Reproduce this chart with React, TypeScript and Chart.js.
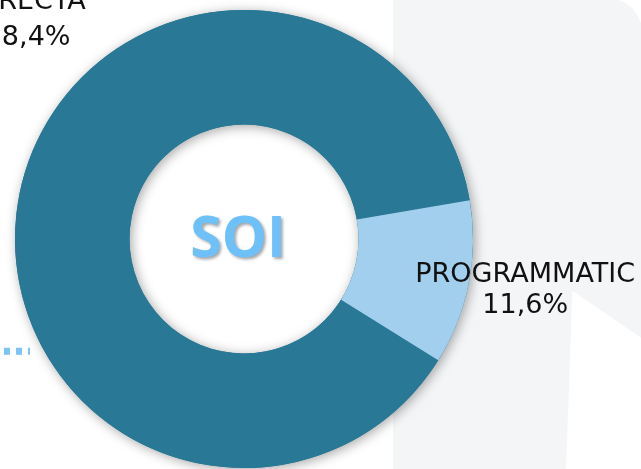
import React, { useEffect, useRef } from "react";
import { Chart, registerables } from "chart.js";

Chart.register(...registerables);

const categories = ["DIRECTA", "PROGRAMMATIC"];
const values = [88.4, 11.6];
const valueLabels = ["88,4%", "11,6%"];
const colors = ["#287896", "#a3cfee"];
const centerText = "SOI";

const backgroundPlugin = {
  id: "bg",
  beforeDraw(chart: any) {
    const { ctx, width: w, height: h } = chart;
    ctx.save();
    ctx.fillStyle = "#ffffff";
    ctx.fillRect(0, 0, w, h);
    // gray panel on the right
    ctx.fillStyle = "#f4f5f7";
    ctx.beginPath();
    ctx.moveTo(w * 0.613, 0);
    ctx.lineTo(w * 0.965, 0);
    ctx.quadraticCurveTo(w * 0.99, h * 0.01, w, h * 0.05);
    ctx.lineTo(w, h);
    ctx.lineTo(w * 0.613, h);
    ctx.closePath();
    ctx.fill();
    // white wedge bottom-right
    ctx.fillStyle = "#ffffff";
    ctx.beginPath();
    ctx.moveTo(w * 0.893, h * 0.62);
    ctx.lineTo(w, h * 0.72);
    ctx.lineTo(w, h);
    ctx.lineTo(w * 0.883, h);
    ctx.closePath();
    ctx.fill();
    // small dashed mark at left
    ctx.strokeStyle = "#7cc4f8";
    ctx.lineWidth = 7;
    ctx.setLineDash([6, 6]);
    ctx.beginPath();
    ctx.moveTo(4, h * 0.749);
    ctx.lineTo(30, h * 0.749);
    ctx.stroke();
    ctx.restore();
  },
  beforeDatasetsDraw(chart: any) {
    const meta = chart.getDatasetMeta(0);
    const arc = meta.data[0];
    if (!arc) return;
    const { x, y, outerRadius, innerRadius } = arc.getProps(["x", "y", "outerRadius", "innerRadius"], true);
    const ctx = chart.ctx;
    ctx.save();
    ctx.shadowColor = "rgba(0,0,0,0.35)";
    ctx.shadowBlur = 12;
    ctx.shadowOffsetX = 2;
    ctx.shadowOffsetY = 2;
    ctx.fillStyle = colors[0];
    ctx.beginPath();
    ctx.arc(x, y, outerRadius, 0, Math.PI * 2);
    ctx.moveTo(x + innerRadius, y);
    ctx.arc(x, y, innerRadius, 0, Math.PI * 2, true);
    ctx.fill("evenodd");
    ctx.restore();
  },
  afterDatasetsDraw(chart: any) {
    const meta = chart.getDatasetMeta(0);
    const arc = meta.data[0];
    if (!arc) return;
    const { x, y, outerRadius: R } = arc.getProps(["x", "y", "outerRadius"], true);
    const ctx = chart.ctx;
    ctx.save();
    // center text
    ctx.font = "bold 57px 'Open Sans', sans-serif";
    ctx.textAlign = "center";
    ctx.textBaseline = "middle";
    ctx.shadowColor = "rgba(0,0,0,0.35)";
    ctx.shadowBlur = 3;
    ctx.shadowOffsetX = 2;
    ctx.shadowOffsetY = 2;
    ctx.fillStyle = "#6ec0f8";
    ctx.fillText(centerText, x - R * 0.026, y + 2);
    ctx.restore();

    const drawLabel = (text: string, cx: number, by: number) => {
      ctx.save();
      ctx.translate(cx, by);
      ctx.scale(1.04, 1);
      ctx.fillText(text, 0, 0);
      ctx.restore();
    };

    ctx.save();
    ctx.font = "26px 'DejaVu Sans', Verdana, sans-serif";
    ctx.fillStyle = "#111111";
    ctx.textAlign = "center";
    ctx.textBaseline = "alphabetic";
    // DIRECTA label (upper left)
    const p0 = { x: x - R * 0.945, y: y - R * 1.0 };
    drawLabel(categories[0], p0.x, p0.y - 1);
    drawLabel(valueLabels[0], p0.x, p0.y + 35);
    // PROGRAMMATIC label (right)
    const p1 = { x: x + R * 1.228, y: y + R * 0.187 };
    drawLabel(categories[1], p1.x, p1.y);
    drawLabel(valueLabels[1], p1.x, p1.y + 31.5);
    ctx.restore();
  },
};

export default function App() {
  const ref = useRef<HTMLCanvasElement>(null);
  useEffect(() => {
    if (!ref.current) return;
    const chart = new Chart(ref.current, {
      type: "doughnut",
      data: {
        labels: categories,
        datasets: [
          {
            data: values,
            backgroundColor: colors,
            borderWidth: 0,
            hoverOffset: 0,
          },
        ],
      },
      options: {
        animation: false,
        responsive: false,
        rotation: 122,
        cutout: "50%",
        layout: { padding: { left: 15, top: 10, right: 168, bottom: 1 } },
        plugins: { legend: { display: false }, tooltip: { enabled: false } },
        events: [],
      },
      plugins: [backgroundPlugin],
    });
    return () => chart.destroy();
  }, []);
  return (
    <div style={{ position: "fixed", left: 0, top: 0, width: 641, height: 469 }}>
      <canvas ref={ref} width={641} height={469} style={{ display: "block" }} />
    </div>
  );
}
